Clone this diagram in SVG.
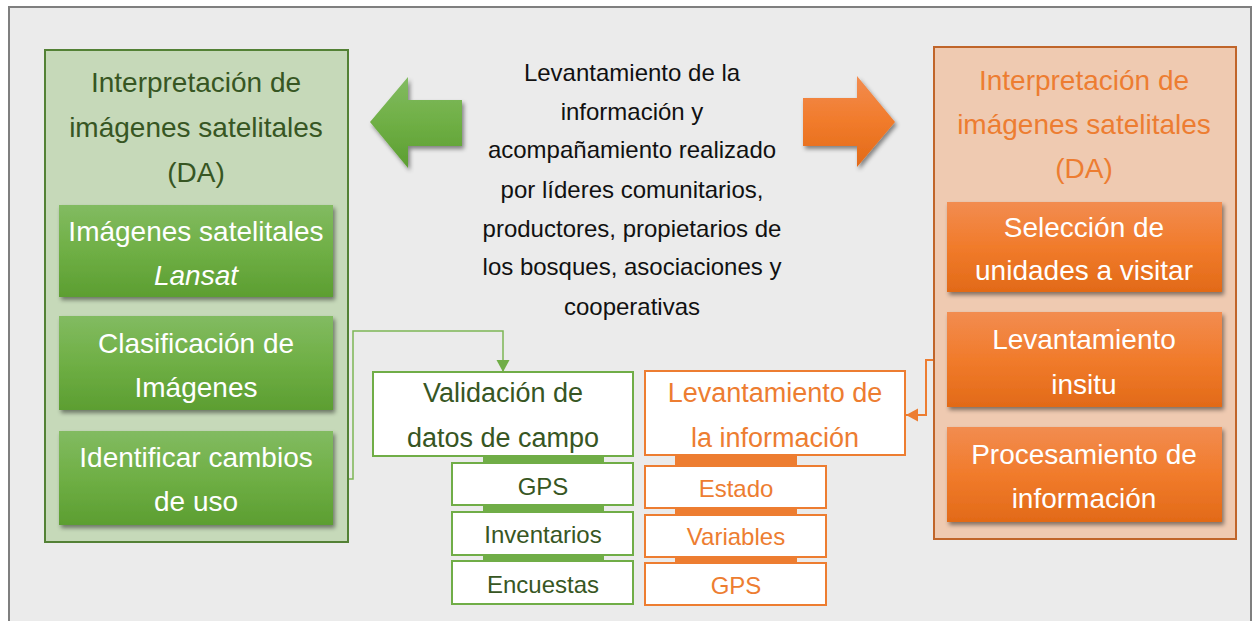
<svg xmlns="http://www.w3.org/2000/svg" width="1253" height="621" viewBox="0 0 1253 621">
<defs>
<style>
text{font-family:"Liberation Sans",Arial,sans-serif;text-anchor:middle}
.t28{font-size:28px}
.t27{font-size:27px}
.t24{font-size:24px}
.wt{fill:#FFFFFF}
.dg{fill:#375623}
.or{fill:#ED7D31}
.bk{fill:#111111}
.gsub{fill:#FFFFFF;stroke:#70AD47;stroke-width:2}
.osub{fill:#FFFFFF;stroke:#ED7D31;stroke-width:2}
</style>
<linearGradient id="gg" x1="0" y1="0" x2="0" y2="1">
<stop offset="0" stop-color="#82BB61"/>
<stop offset="0.5" stop-color="#6FAF45"/>
<stop offset="1" stop-color="#5C9E31"/>
</linearGradient>
<linearGradient id="og" x1="0" y1="0" x2="0" y2="1">
<stop offset="0" stop-color="#F28C50"/>
<stop offset="0.5" stop-color="#F17B2B"/>
<stop offset="1" stop-color="#E26A18"/>
</linearGradient>
<filter id="sh" x="-10%" y="-10%" width="130%" height="140%">
<feDropShadow dx="2" dy="3" stdDeviation="2" flood-color="#000" flood-opacity="0.45"/>
</filter>
<marker id="mg" markerUnits="userSpaceOnUse" markerWidth="14" markerHeight="14" refX="7" refY="12" orient="auto-start-reverse" viewBox="0 0 14 14">
<path d="M0,0 L14,0 L7,12 Z" fill="#70AD47" transform="rotate(-90 7 7)"/>
</marker>
<marker id="mo" markerUnits="userSpaceOnUse" markerWidth="14" markerHeight="14" refX="12" refY="7" orient="auto" viewBox="0 0 14 14">
<path d="M0,0.5 L12,7 L0,13.5 Z" fill="#ED7D31"/>
</marker>
<marker id="mg2" markerUnits="userSpaceOnUse" markerWidth="14" markerHeight="14" refX="12" refY="7" orient="auto" viewBox="0 0 14 14">
<path d="M0,0.5 L12,7 L0,13.5 Z" fill="#70AD47"/>
</marker>
</defs>

<rect x="0" y="0" width="1253" height="621" fill="#FFFFFF"/>
<rect x="9" y="7" width="1242" height="640" fill="#EBEBEB" stroke="#7F7F7F" stroke-width="2"/>

<g id="connectors" fill="none">
<path d="M333,479 H353 V331 H503 V372" stroke="#7DB656" stroke-width="1.5" marker-end="url(#mg2)"/>
<path d="M947,360 H926 V415 H906" stroke="#ED7D31" stroke-width="2" marker-end="url(#mo)"/>
</g>

<g id="left-panel">
<rect x="45" y="50" width="303" height="492" fill="#C6D9B9" stroke="#538135" stroke-width="2"/>
<text class="t28 dg" x="196" y="92">Interpretación de</text>
<text class="t28 dg" x="196" y="137">imágenes satelitales</text>
<text class="t28 dg" x="196" y="182">(DA)</text>
</g>
<g id="l-box1">
<rect x="59" y="205" width="274" height="92" fill="url(#gg)" filter="url(#sh)"/>
<text class="t28 wt" x="196" y="241">Imágenes satelitales</text>
<text class="t28 wt" x="196" y="285" font-style="italic">Lansat</text>
</g>
<g id="l-box2">
<rect x="59" y="316" width="274" height="94" fill="url(#gg)" filter="url(#sh)"/>
<text class="t28 wt" x="196" y="353">Clasificación de</text>
<text class="t28 wt" x="196" y="397">Imágenes</text>
</g>
<g id="l-box3">
<rect x="59" y="431" width="274" height="94" fill="url(#gg)" filter="url(#sh)"/>
<text class="t28 wt" x="196" y="467">Identificar cambios</text>
<text class="t28 wt" x="196" y="511">de uso</text>
</g>

<g id="green-arrow">
<polygon points="370,122 408,77 408,100 462,100 462,146 408,146 408,168" fill="url(#gg)" filter="url(#sh)"/>
</g>
<g id="orange-arrow">
<polygon points="895,122 857,76 857,98 803,98 803,146 857,146 857,167" fill="url(#og)" filter="url(#sh)"/>
</g>

<g id="center-text">
<text class="t24 bk" x="632" y="81">Levantamiento de la</text>
<text class="t24 bk" x="632" y="120">información y</text>
<text class="t24 bk" x="632" y="158">acompañamiento realizado</text>
<text class="t24 bk" x="632" y="198">por líderes comunitarios,</text>
<text class="t24 bk" x="632" y="237">productores, propietarios de</text>
<text class="t24 bk" x="632" y="275">los bosques, asociaciones y</text>
<text class="t24 bk" x="632" y="315">cooperativas</text>
</g>

<g id="right-panel">
<rect x="934" y="47" width="302" height="492" fill="#EFCAB1" stroke="#C0652A" stroke-width="2"/>
<text class="t28 or" x="1084" y="90">Interpretación de</text>
<text class="t28 or" x="1084" y="134">imágenes satelitales</text>
<text class="t28 or" x="1084" y="178">(DA)</text>
</g>
<g id="r-box1">
<rect x="947" y="202" width="275" height="90" fill="url(#og)" filter="url(#sh)"/>
<text class="t28 wt" x="1084" y="237">Selección de</text>
<text class="t28 wt" x="1084" y="280">unidades a visitar</text>
</g>
<g id="r-box2">
<rect x="947" y="312" width="275" height="95" fill="url(#og)" filter="url(#sh)"/>
<text class="t28 wt" x="1084" y="349">Levantamiento</text>
<text class="t28 wt" x="1084" y="394">insitu</text>
</g>
<g id="r-box3">
<rect x="947" y="427" width="275" height="95" fill="url(#og)" filter="url(#sh)"/>
<text class="t28 wt" x="1084" y="464">Procesamiento de</text>
<text class="t28 wt" x="1084" y="508">información</text>
</g>

<g id="validacion">
<rect x="483" y="455" width="121" height="150" fill="#70AD47"/>
<rect x="373" y="372" width="260" height="84" class="gsub"/>
<text class="t27 dg" x="503" y="402">Validación de</text>
<text class="t27 dg" x="503" y="447">datos de campo</text>
</g>
<g id="v-gps">
<rect x="452" y="463" width="181" height="42" class="gsub"/>
<text class="t24 dg" x="543" y="495">GPS</text>
</g>
<g id="v-inventarios">
<rect x="452" y="512" width="181" height="43" class="gsub"/>
<text class="t24 dg" x="543" y="543">Inventarios</text>
</g>
<g id="v-encuestas">
<rect x="452" y="561" width="181" height="43" class="gsub"/>
<text class="t24 dg" x="543" y="593">Encuestas</text>
</g>

<g id="levantamiento">
<rect x="675" y="454" width="122" height="150" fill="#ED7D31"/>
<rect x="645" y="371" width="260" height="84" class="osub"/>
<text class="t27 or" x="775" y="402">Levantamiento de</text>
<text class="t27 or" x="775" y="447">la información</text>
</g>
<g id="l-estado">
<rect x="645" y="466" width="181" height="42" class="osub"/>
<text class="t24 or" x="736" y="497">Estado</text>
</g>
<g id="l-variables">
<rect x="645" y="515" width="181" height="42" class="osub"/>
<text class="t24 or" x="736" y="545">Variables</text>
</g>
<g id="l-gps">
<rect x="645" y="563" width="181" height="42" class="osub"/>
<text class="t24 or" x="736" y="594">GPS</text>
</g>
</svg>
